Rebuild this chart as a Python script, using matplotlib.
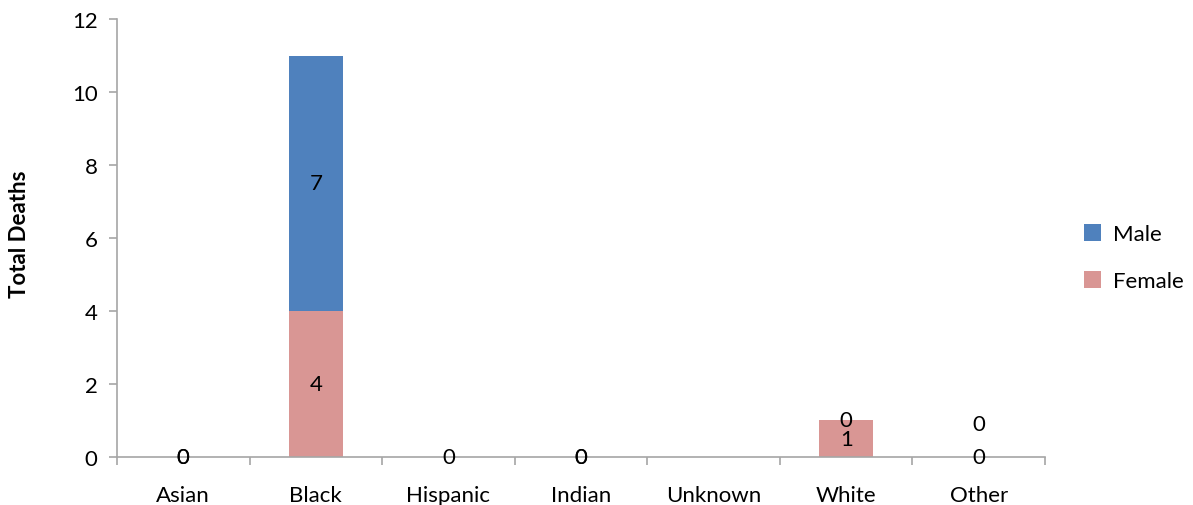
import numpy as np
import matplotlib.pyplot as plt

plt.rcParams['font.family'] = ['Lato', 'DejaVu Sans']

groups = ['Asian', 'Black', 'Hispanic', 'Indian', 'Unknown', 'White', 'Other']
female = [0, 4, 0, 0, 0, 1, 0]
male = [0, 7, 0, 0, 0, 0, 0]
# which labels Excel shows (None = hidden)
female_lbl = ['0', '4', '0', '0', None, '1', '0']
male_lbl = ['0', '7', None, '0', None, '0', '0']
male_lbl_shift = [0, 0, 0, 0, 0, 0, 0.9]

c_male = '#4F81BD'
c_female = '#D99694'
grey = '#A6A6A6'
fs = 16

fig, ax = plt.subplots(figsize=(11.93, 5.06), dpi=100)
fig.subplots_adjust(left=0.098, right=0.876, top=0.96, bottom=0.095)

x = np.arange(len(groups))
w = 0.41
ax.bar(x, female, w, color=c_female, label='Female')
ax.bar(x, male, w, bottom=female, color=c_male, label='Male')

for i in range(len(groups)):
    if female_lbl[i] is not None:
        ax.text(x[i], female[i] / 2, female_lbl[i], ha='center', va='center', fontsize=fs)
    if male_lbl[i] is not None:
        ax.text(x[i], female[i] + male[i] / 2 + male_lbl_shift[i], male_lbl[i],
                ha='center', va='center', fontsize=fs)

ax.set_xlim(-0.5, len(groups) - 0.5)
ax.set_ylim(0, 12)
ax.set_yticks(range(0, 13, 2))
ax.set_xticks(x)
ax.set_xticklabels(groups, fontsize=fs)
ax.set_xticks(np.arange(-0.5, len(groups)), minor=True)
ax.tick_params(axis='x', which='major', length=0, pad=20)
ax.tick_params(axis='x', which='minor', length=6, color=grey, width=1.2)
ax.tick_params(axis='y', labelsize=fs, length=6, color=grey, width=1.2, pad=8)
for s in ['top', 'right']:
    ax.spines[s].set_visible(False)
for s in ['left', 'bottom']:
    ax.spines[s].set_color(grey)
    ax.spines[s].set_linewidth(1.2)
ax.set_ylabel('Total Deaths', fontsize=fs, fontweight='bold')
ax.yaxis.set_label_coords(-0.094, 0.51)

h, l = ax.get_legend_handles_labels()
ax.legend(h[::-1], l[::-1], loc='center left', bbox_to_anchor=(1.02, 0.455), frameon=False,
          fontsize=fs, handlelength=0.8, handleheight=0.8, labelspacing=1.2, handletextpad=0.5)

fig.savefig('out.png')
